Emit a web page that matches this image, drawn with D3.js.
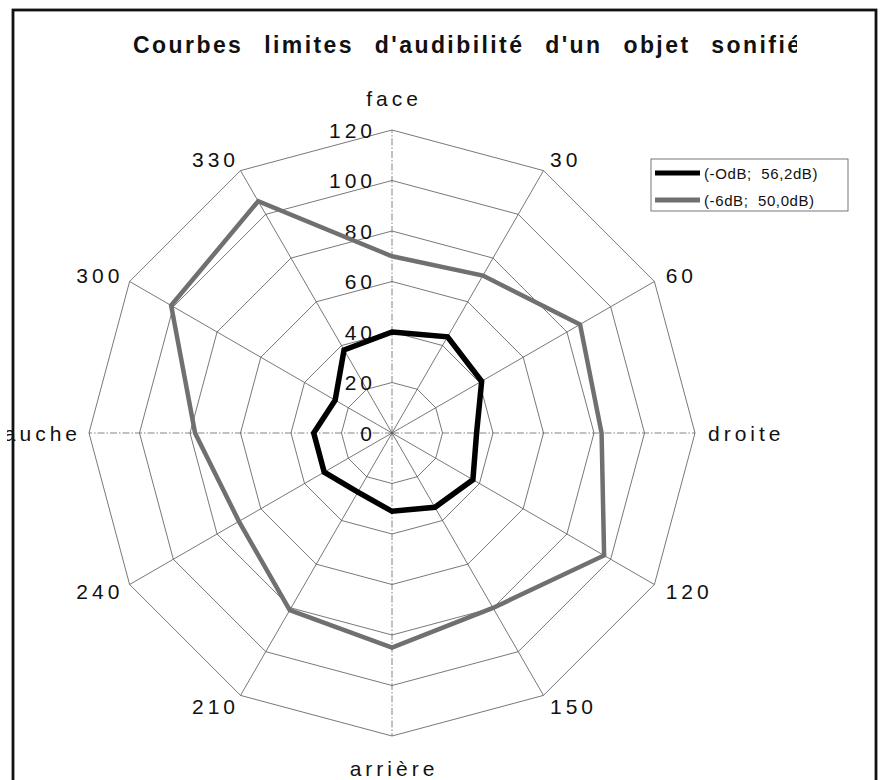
<!DOCTYPE html>
<html>
<head>
<meta charset="utf-8">
<script src="https://cdn.jsdelivr.net/npm/d3@7"></script>
<style>
  html, body { margin: 0; padding: 0; background: #fff; }
  svg { display: block; }
  text { font-family: "Liberation Sans", Arial, sans-serif; fill: #111; }
</style>
</head>
<body>
<svg id="chart" width="881" height="780"></svg>
<script>
// Directions around the listener (degrees, clockwise from "face")
const directions = ["face", "30", "60", "droite", "120", "150", "arrière", "210", "240", "gauche", "300", "330"];
// Audibility limit (distance) for each direction
const seriesNames = ["(-OdB;  56,2dB)", "(-6dB;  50,0dB)"];
const valuesOdB = [40, 44, 41, 33.5, 37, 34, 31, 27, 31, 31, 26, 38];
const values6dB = [70, 72, 86, 83, 97, 80, 85, 81, 70, 78, 101, 106];
const tickValues = [0, 20, 40, 60, 80, 100, 120];
const chartTitle = "Courbes limites d'audibilité d'un objet sonifié";

const W = 881, H = 780;
const cx = 392, cy = 433;
const svg = d3.select("#chart");

const r = d3.scaleLinear().domain([0, 120]).range([0, 303]);
const angle = d3.scaleLinear().domain([0, directions.length]).range([0, 2 * Math.PI]);

// clip the drawing area (the left label runs under the frame)
svg.append("clipPath").attr("id", "frameClip")
  .append("rect").attr("x", 7).attr("y", 11).attr("width", 868).attr("height", H);
const g = svg.append("g").attr("clip-path", "url(#frameClip)");

// title, cut at the right edge of its box
svg.append("clipPath").attr("id", "titleClip")
  .append("rect").attr("x", 0).attr("y", 0).attr("width", 797).attr("height", 80);
g.append("text")
  .attr("clip-path", "url(#titleClip)")
  .attr("x", 133).attr("y", 53)
  .attr("font-size", 23).attr("font-weight", "bold")
  .attr("letter-spacing", 2).attr("word-spacing", 12)
  .attr("textLength", 669).attr("lengthAdjust", "spacing")
  .text(chartTitle);

const grid = g.append("g").attr("transform", `translate(${cx},${cy})`);

// concentric 12-sided rings
const ringLine = d3.lineRadial().angle((d, i) => angle(i)).radius(d => r(d)).curve(d3.curveLinearClosed);
tickValues.filter(v => v > 0).forEach(v => {
  grid.append("path")
    .attr("d", ringLine(directions.map(() => v)))
    .attr("fill", "none").attr("stroke", "#555").attr("stroke-width", 0.8);
});

// spokes: dash-dot on the four main directions
directions.forEach((d, i) => {
  const main = i % 3 === 0;
  grid.append("line")
    .attr("x1", 0).attr("y1", 0)
    .attr("x2", r(120) * Math.sin(angle(i)))
    .attr("y2", -r(120) * Math.cos(angle(i)))
    .attr("stroke", main ? "#666" : "#555")
    .attr("stroke-width", 0.8)
    .attr("stroke-dasharray", main ? "7,2,1.5,2" : null);
});

// radial tick labels along the "face" axis
g.selectAll("text.tick").data(tickValues).join("text")
  .attr("class", "tick")
  .attr("x", 376).attr("y", d => cy - r(d))
  .attr("dominant-baseline", "central")
  .attr("text-anchor", "end")
  .attr("font-size", 21).attr("letter-spacing", 4)
  .text(d => d);

// direction labels around the outside
directions.forEach((d, i) => {
  const s = Math.sin(angle(i)), c = Math.cos(angle(i));
  const vertical = Math.abs(s) < 0.1;
  const rr = r(120) + (vertical ? 32 : 13);
  let x = cx + rr * s;
  const y = cy - rr * c;
  const anchor = vertical ? "middle" : (s > 0 ? "start" : "end");
  if (anchor === "end") x += 5;
  g.append("text")
    .attr("x", vertical ? x + 2 : x).attr("y", y)
    .attr("dominant-baseline", "central")
    .attr("text-anchor", anchor)
    .attr("font-size", 21).attr("letter-spacing", 4)
    .text(d);
});

// data polygons
const seriesLine = d3.lineRadial().angle((d, i) => angle(i)).radius(d => r(d)).curve(d3.curveLinearClosed);
const plot = g.append("g").attr("transform", `translate(${cx},${cy})`);
plot.append("path")
  .attr("d", seriesLine(values6dB))
  .attr("fill", "none").attr("stroke", "#707070").attr("stroke-width", 4.5)
  .attr("stroke-linejoin", "miter");
plot.append("path")
  .attr("d", seriesLine(valuesOdB))
  .attr("fill", "none").attr("stroke", "#000").attr("stroke-width", 5.5)
  .attr("stroke-linejoin", "miter");

// legend
const legend = g.append("g").attr("transform", "translate(651,159)");
legend.append("rect")
  .attr("width", 197).attr("height", 52)
  .attr("fill", "#fff").attr("stroke", "#555").attr("stroke-width", 0.8);
const legendColors = ["#000", "#707070"];
seriesNames.forEach((name, i) => {
  const ly = 14 + i * 27;
  legend.append("line")
    .attr("x1", 4).attr("x2", 49).attr("y1", ly).attr("y2", ly)
    .attr("stroke", legendColors[i]).attr("stroke-width", 5);
  legend.append("text")
    .attr("x", 53).attr("y", ly)
    .attr("dominant-baseline", "central")
    .attr("font-size", 15).attr("letter-spacing", 0.6)
    .attr("xml:space", "preserve")
    .style("white-space", "pre")
    .text(name);
});

// outer frame
svg.append("rect")
  .attr("x", 13).attr("y", 10).attr("width", 863).attr("height", H + 20)
  .attr("fill", "none").attr("stroke", "#111").attr("stroke-width", 2.8);
</script>
</body>
</html>
